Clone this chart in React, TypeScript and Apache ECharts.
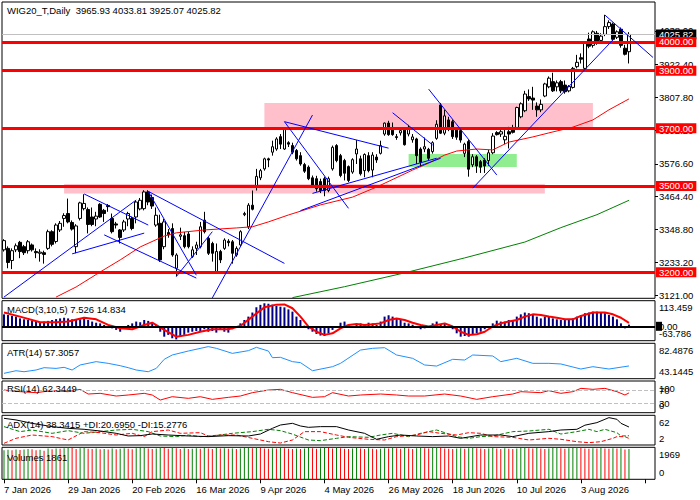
import React, { useEffect, useRef } from "react";
import * as echarts from "echarts";

// ---------------- data ----------------
const HEADER = "WIG20_T,Daily  3965.93 4033.81 3925.07 4025.82";
const FIRST_DAY = "2026-01-07";
const HOLIDAYS = ["2026-04-03", "2026-04-06", "2026-05-01", "2026-06-04"];
const MONTHS = ["Jan", "Feb", "Mar", "Apr", "May", "Jun", "Jul", "Aug", "Sep", "Oct", "Nov", "Dec"];
const SLOT_COUNT = 163;
const LABEL_EVERY = 16;

// [open, high, low, close]
const CANDLES: number[][] = [
  [3278, 3315, 3272, 3310], [3283, 3290, 3214, 3234], [3241, 3283, 3211, 3275], [3278, 3300, 3270, 3292], [3304, 3309, 3249, 3272],
  [3289, 3295, 3260, 3268], [3275, 3312, 3265, 3306], [3295, 3300, 3272, 3278], [3272, 3283, 3249, 3268], [3266, 3280, 3237, 3270],
  [3268, 3275, 3230, 3262], [3283, 3348, 3278, 3341], [3341, 3346, 3290, 3297], [3307, 3370, 3300, 3364], [3347, 3378, 3340, 3370],
  [3387, 3405, 3358, 3397], [3404, 3456, 3370, 3375], [3373, 3380, 3345, 3350], [3289, 3367, 3266, 3361], [3387, 3445, 3380, 3441],
  [3421, 3471, 3415, 3439], [3418, 3425, 3335, 3366], [3392, 3425, 3360, 3366], [3385, 3410, 3360, 3395], [3436, 3440, 3389, 3392],
  [3415, 3420, 3375, 3404], [3432, 3437, 3410, 3428], [3387, 3404, 3335, 3341], [3368, 3375, 3352, 3364], [3347, 3350, 3300, 3321],
  [3347, 3382, 3340, 3375], [3385, 3410, 3360, 3404], [3387, 3393, 3346, 3352], [3392, 3450, 3370, 3444], [3420, 3458, 3415, 3450],
  [3421, 3485, 3415, 3479], [3479, 3485, 3433, 3444], [3460, 3470, 3420, 3430], [3364, 3425, 3358, 3398], [3370, 3400, 3236, 3243],
  [3289, 3385, 3280, 3375], [3338, 3350, 3320, 3330], [3352, 3370, 3254, 3260], [3214, 3266, 3186, 3260], [3325, 3355, 3312, 3330],
  [3327, 3340, 3283, 3289], [3333, 3340, 3283, 3289], [3255, 3290, 3250, 3278], [3283, 3306, 3260, 3295], [3289, 3375, 3283, 3358],
  [3381, 3410, 3335, 3341], [3318, 3323, 3260, 3266], [3300, 3306, 3237, 3266], [3203, 3300, 3200, 3272], [3272, 3278, 3232, 3243],
  [3283, 3318, 3278, 3312], [3308, 3315, 3290, 3303], [3306, 3312, 3230, 3266], [3260, 3290, 3254, 3283], [3295, 3346, 3290, 3341],
  [3400, 3410, 3395, 3404], [3358, 3440, 3350, 3433], [3433, 3484, 3415, 3419], [3496, 3559, 3484, 3533], [3528, 3559, 3520, 3553],
  [3559, 3598, 3553, 3594], [3594, 3598, 3565, 3590], [3617, 3657, 3605, 3636], [3628, 3669, 3622, 3663], [3671, 3680, 3628, 3645],
  [3628, 3703, 3625, 3697], [3650, 3655, 3635, 3645], [3640, 3650, 3610, 3617], [3623, 3628, 3588, 3594], [3605, 3617, 3570, 3576],
  [3574, 3580, 3545, 3551], [3565, 3571, 3520, 3525], [3528, 3536, 3496, 3502], [3525, 3535, 3480, 3490], [3515, 3525, 3475, 3484],
  [3525, 3532, 3464, 3484], [3484, 3532, 3478, 3525], [3559, 3640, 3553, 3634], [3640, 3645, 3582, 3588], [3605, 3611, 3530, 3536],
  [3588, 3594, 3519, 3544], [3567, 3571, 3513, 3519], [3548, 3596, 3542, 3591], [3611, 3659, 3576, 3628], [3594, 3605, 3536, 3542],
  [3553, 3613, 3530, 3609], [3605, 3617, 3547, 3553], [3555, 3617, 3530, 3607], [3600, 3610, 3580, 3590], [3613, 3657, 3609, 3640],
  [3680, 3720, 3674, 3718], [3718, 3726, 3674, 3678], [3703, 3720, 3674, 3678], [3671, 3680, 3660, 3668], [3684, 3700, 3675, 3692],
  [3694, 3703, 3640, 3643], [3680, 3712, 3672, 3703], [3660, 3680, 3650, 3670], [3663, 3667, 3576, 3605], [3628, 3634, 3565, 3582],
  [3628, 3668, 3617, 3636], [3627, 3632, 3590, 3596], [3619, 3655, 3612, 3650], [3665, 3728, 3660, 3714], [3781, 3788, 3680, 3683],
  [3683, 3765, 3676, 3743], [3729, 3740, 3690, 3700], [3723, 3730, 3663, 3671], [3694, 3700, 3660, 3669], [3692, 3700, 3650, 3659],
  [3613, 3650, 3600, 3645], [3654, 3660, 3532, 3558], [3573, 3610, 3565, 3601], [3601, 3607, 3545, 3569], [3584, 3590, 3545, 3565],
  [3590, 3596, 3545, 3569], [3588, 3625, 3570, 3615], [3615, 3683, 3610, 3673], [3685, 3690, 3675, 3678], [3680, 3700, 3670, 3688],
  [3660, 3695, 3645, 3672], [3688, 3705, 3630, 3680], [3700, 3712, 3682, 3686], [3703, 3775, 3700, 3772], [3740, 3790, 3735, 3785],
  [3761, 3830, 3756, 3819], [3810, 3835, 3795, 3802], [3805, 3844, 3764, 3798], [3777, 3790, 3740, 3764], [3764, 3800, 3756, 3783],
  [3812, 3858, 3808, 3854], [3844, 3880, 3839, 3874], [3862, 3893, 3826, 3830], [3844, 3866, 3828, 3858], [3862, 3868, 3822, 3830],
  [3850, 3866, 3820, 3827], [3830, 3850, 3825, 3845], [3842, 3913, 3838, 3908], [3914, 3955, 3908, 3929], [3945, 3960, 3925, 3940],
  [3908, 4001, 3902, 3995], [4010, 4032, 3978, 3985], [3988, 4040, 3980, 4035], [4030, 4038, 3990, 3995], [4005, 4030, 3995, 4020],
  [4026, 4094, 4020, 4053], [4053, 4075, 4045, 4067], [4062, 4067, 3998, 4009], [4016, 4040, 4010, 4035], [4044, 4050, 3980, 3988],
  [3978, 3990, 3953, 3957], [3965.93, 4033.81, 3925.07, 4025.82],
];

const PRICE_MIN = 3109.7;
const PRICE_MAX = 4138.5;
const PRICE_TICKS = [3121.0, 3233.2, 3348.8, 3464.4, 3576.6, 3692.2, 3807.8, 3922.4, 4038.0];
const LEVELS = [4000, 3900, 3700, 3500, 3200];
const LAST_PRICE = 4025.82;

// [barIndex, price]
const RED_MA = [
  [13, 3114], [18, 3149], [24, 3201], [29, 3243], [34, 3288], [40, 3326], [43, 3337], [50, 3347], [58, 3354], [62, 3358],
  [66, 3375], [71, 3399], [79, 3434], [87, 3461], [93, 3496], [102, 3555], [106, 3579], [110, 3607], [113, 3621], [118, 3628],
  [122, 3625], [126, 3652], [132, 3670], [136, 3684], [142, 3704], [147, 3729], [151, 3764], [156, 3802],
];
const GREEN_MA = [[72, 3112], [85, 3150], [100, 3198], [115, 3250], [130, 3305], [139, 3355], [148, 3400], [156, 3450]];

// [i1, p1, i2, p2]
const TRENDLINES = [
  [0, 3114, 33, 3451], [20, 3472, 36, 3364], [17, 3264, 35, 3336], [25, 3330, 48, 3180],
  [36, 3481, 70, 3231], [36, 3481, 48, 3190], [43, 3185, 52, 3341], [52, 3111, 77, 3746],
  [70, 3723, 96, 3631], [70, 3723, 86, 3422], [74, 3414, 109, 3596], [77, 3474, 108, 3596],
  [97, 3754, 107, 3642], [106, 3836, 123, 3538], [117, 3492, 152, 4007], [150, 4093, 162, 3946],
];
// [i1, pTop, i2, pBottom]
const ZONES = [[65, 3788, 147, 3697], [15, 3507, 135, 3474], [101, 3611, 128, 3566]];
const ZONE_COLORS = ["#FFC0CB", "#FFC0CB", "#90EE90"];

const MACD_LABEL = "MACD(3,10,5) 7.526 14.834";
const MACD_MIN = -63.786;
const MACD_MAX = 113.459;
const MACD_ZERO = 0;
const MACD_HIST = [
  53, 50, 46, 43, 35, 31, 28, 25, 21, 16, 21, 24, 28, 32, 35, 38, 35, 31, 28, 31,
  35, 28, 21, 16, 13, 6, -1, -9, -16, -24, -4, 6, 13, 21, 18, 28, 24, 13, 6, -24,
  -46, -38, -53, -58, -46, -38, -28, -24, -21, -21, -13, -24, -21, -28, -16, -24, -28, -13, -4, 13,
  28, 43, 61, 84, 95, 102, 100, 96, 90, 87, 84, 75, 65, 43, 28, 3, -13, -24, -34, -41,
  -43, -31, -16, -1, 16, 21, 6, -4, 10, 13, 6, 16, 13, 6, 21, 43, 49, 43, 35, 28,
  16, 13, 7, -4, -13, -9, -1, 13, 21, 6, 13, -6, -13, -31, -46, -43, -46, -38, -31, -24,
  -13, -1, 13, 25, 21, 21, 28, 28, 43, 53, 61, 58, 50, 43, 35, 43, 43, 35, 31, 28,
  28, 31, 35, 43, 50, 58, 61, 65, 65, 61, 58, 50, 43, 31, 13, -9, 7.5,
];
const MACD_SIGNAL = [
  [0, 61], [4, 43], [9, 18], [13, 18], [16, 21], [20, 38], [23, 31], [26, 6], [29, -9], [32, -13],
  [35, 6], [37, 16], [40, -16], [43, -46], [46, -38], [49, -24], [52, -13], [56, -13], [59, 1], [62, 43],
  [65, 84], [68, 96], [70, 97], [72, 80], [74, 43], [76, -1], [78, -24], [80, -38], [82, -31], [84, -9],
  [86, 6], [88, 10], [90, 6], [92, 9], [94, 13], [96, 28], [98, 35], [100, 28], [102, 16], [104, 6],
  [106, -1], [108, 6], [110, 13], [112, -1], [114, -24], [116, -38], [118, -35], [120, -24], [122, -1], [124, 13],
  [126, 21], [128, 28], [130, 43], [132, 53], [134, 50], [136, 43], [138, 38], [140, 31], [142, 31], [144, 46],
  [147, 61], [150, 61], [152, 53], [154, 38], [156, 14.834],
];

const ATR_LABEL = "ATR(14) 57.3057";
const ATR_MIN = 43.1445;
const ATR_MAX = 82.4876;
const ATR = [
  [0, 49.1], [3, 52.0], [5, 50.9], [8, 52.8], [10, 55.4], [13, 54.6], [15, 55.8], [17, 52.8], [19, 58.4], [23, 62.1],
  [26, 60.2], [29, 57.6], [31, 55.4], [33, 52.8], [36, 50.9], [38, 54.6], [40, 64.7], [42, 69.5], [46, 73.9], [51, 78.8],
  [53, 76.9], [57, 71.3], [61, 74.3], [63, 78.0], [66, 73.9], [67, 66.5], [69, 66.9], [72, 62.1], [74, 61.0], [77, 52.0],
  [82, 56.5], [84, 60.2], [89, 75.0], [92, 76.9], [95, 77.6], [98, 69.5], [102, 65.8], [105, 58.4], [108, 57.2], [112, 64.7],
  [115, 63.9], [117, 69.5], [122, 68.4], [124, 62.1], [128, 65.8], [132, 60.2], [136, 60.2], [139, 59.5], [144, 53.9], [147, 56.5],
  [151, 53.9], [156, 57.3057],
];

const RSI_LABEL = "RSI(14) 62.3449";
const RSI_LEVELS = [70, 30];
const RSI = [
  [0, 71.6], [4, 66.3], [8, 63.2], [12, 69.5], [16, 66.3], [19, 73.7], [21, 58.9], [24, 61.1], [28, 52.6], [31, 55.8],
  [35, 61.1], [37, 55.8], [39, 40.0], [42, 50.5], [46, 45.3], [49, 50.5], [52, 42.1], [56, 48.4], [59, 52.6], [62, 63.2],
  [66, 71.6], [69, 73.7], [72, 63.2], [77, 48.4], [80, 50.5], [82, 63.2], [86, 52.6], [89, 55.8], [94, 58.9], [98, 55.8],
  [101, 52.6], [105, 52.6], [110, 58.9], [114, 52.6], [118, 42.1], [122, 50.5], [127, 58.9], [129, 66.3], [134, 63.2], [136, 69.5],
  [139, 61.1], [142, 66.3], [144, 76.8], [147, 73.7], [150, 76.8], [153, 66.3], [155, 55.8], [156, 62.3449],
];

const ADX_LABEL = "ADX(14) 38.3415 +DI:20.6950 -DI:15.2776";
const ADX_MIN = 2;
const ADX_MAX = 62;
const ADX = [
  [0, 55.9], [3, 52.6], [7, 45.8], [12, 39.1], [16, 35.7], [20, 33.7], [24, 30.3], [28, 25.6], [31, 20.2], [34, 20.9],
  [37, 24.2], [41, 22.2], [46, 20.2], [51, 18.9], [56, 20.9], [61, 20.2], [64, 24.2], [67, 35.7], [69, 42.4], [72, 45.8],
  [74, 40.4], [76, 37.7], [79, 39.1], [83, 39.1], [86, 32.3], [90, 25.6], [93, 13.5], [96, 18.9], [99, 22.2], [103, 20.2],
  [107, 18.9], [111, 20.2], [114, 15.5], [119, 22.2], [124, 22.2], [127, 18.9], [131, 25.6], [136, 29.0], [139, 32.3], [143, 33.7],
  [145, 42.0], [148, 47.2], [151, 57.3], [153, 53.9], [154, 45.8], [156, 38.3415],
];
const PLUS_DI = [
  [0, 39.1], [4, 29.0], [7, 32.3], [12, 25.6], [16, 31.0], [20, 25.6], [24, 29.0], [28, 32.3], [32, 33.7], [36, 29.0],
  [39, 20.2], [43, 18.9], [46, 22.2], [49, 18.9], [52, 20.2], [57, 25.6], [62, 29.0], [66, 33.7], [69, 31.0], [72, 24.0],
  [74, 18.0], [76, 12.1], [79, 10.8], [83, 15.5], [86, 18.9], [91, 17.5], [94, 22.2], [97, 25.6], [101, 18.9], [104, 25.6],
  [108, 32.3], [113, 18.9], [116, 15.5], [119, 18.9], [122, 20.2], [127, 29.0], [131, 30.3], [136, 33.7], [139, 24.2], [143, 29.0],
  [146, 33.7], [148, 29.0], [150, 33.7], [153, 26.9], [154, 20.2], [156, 20.695],
];
const MINUS_DI = [
  [0, 5.4], [3, 15.5], [7, 22.2], [12, 18.9], [16, 12.1], [20, 29.0], [24, 26.9], [28, 22.2], [32, 25.6], [35, 18.9],
  [37, 29.0], [41, 32.3], [44, 25.6], [49, 26.9], [51, 20.2], [54, 22.2], [58, 22.2], [62, 15.5], [66, 8.7], [69, 6.0],
  [72, 12.1], [75, 29.0], [79, 29.0], [83, 22.2], [86, 17.5], [91, 13.5], [95, 12.1], [98, 18.9], [103, 22.2], [106, 29.0],
  [109, 25.6], [113, 22.2], [116, 26.9], [119, 25.6], [122, 18.9], [127, 17.5], [131, 12.1], [136, 15.5], [139, 13.5], [143, 8.7],
  [146, 6.7], [149, 8.7], [152, 15.5], [153, 18.9], [155, 18.9], [156, 15.2776],
];

const VOL_LABEL = "Volumes 1861";
const VOL_MAX = 1969;
const VOLUMES = [
  1780, 1820, 1795, 1840, 1810, 1830, 1870, 1850, 1790, 1815,
  1760, 1890, 1850, 1900, 1880, 1910, 1960, 1930, 1870, 1905,
  1940, 1880, 1860, 1895, 1845, 1870, 1835, 1890, 1850, 1880,
  1910, 1875, 1845, 1905, 1920, 1950, 1900, 1870, 1890, 1969,
  1930, 1880, 1940, 1910, 1870, 1905, 1860, 1885, 1910, 1880,
  1920, 1890, 1870, 1930, 1895, 1915, 1880, 1900, 1860, 1890,
  1920, 1940, 1905, 1950, 1925, 1900, 1880, 1915, 1890, 1935,
  1910, 1880, 1860, 1890, 1870, 1900, 1930, 1905, 1880, 1915,
  1945, 1920, 1900, 1935, 1910, 1880, 1860, 1895, 1920, 1890,
  1870, 1905, 1880, 1850, 1875, 1910, 1890, 1935, 1905, 1880,
  1920, 1895, 1870, 1905, 1935, 1910, 1890, 1920, 1950, 1930,
  1900, 1875, 1860, 1890, 1915, 1880, 1910, 1940, 1915, 1890,
  1870, 1900, 1925, 1895, 1870, 1905, 1885, 1860, 1890, 1920,
  1945, 1915, 1900, 1925, 1890, 1870, 1895, 1920, 1940, 1910,
  1885, 1905, 1930, 1960, 1935, 1900, 1880, 1910, 1890, 1920,
  1900, 1880, 1915, 1890, 1905, 1840, 1861,
];

// ---------------- helpers ----------------
function buildDates(count: number): string[] {
  const out: string[] = [];
  const d = new Date(FIRST_DAY + "T00:00:00Z");
  while (out.length < count) {
    const iso = d.toISOString().slice(0, 10);
    const wd = d.getUTCDay();
    if (wd !== 0 && wd !== 6 && !HOLIDAYS.includes(iso)) {
      out.push(`${d.getUTCDate()} ${MONTHS[d.getUTCMonth()]} ${d.getUTCFullYear()}`);
    }
    d.setUTCDate(d.getUTCDate() + 1);
  }
  return out;
}

const FONT = "Liberation Sans";
const FS = 9.5;
const LEFT = 2;
const WIDTH = 653;
const PANELS = [
  { top: 2, height: 296.3 },
  { top: 300.7, height: 40 },
  { top: 343.3, height: 35.4 },
  { top: 381, height: 31.7 },
  { top: 415.3, height: 29.7 },
  { top: 447.3, height: 32 },
];

const txt = { fontFamily: FONT, fontSize: FS, color: "#000" };

function edgeAxis(grid: number, min: number, max: number, topText: string, bottomText: string) {
  return {
    type: "value",
    gridIndex: grid,
    position: "right",
    min,
    max,
    splitLine: { show: false },
    axisLine: { show: false },
    axisTick: { show: false },
    axisLabel: {
      ...txt,
      margin: 4,
      showMinLabel: true,
      showMaxLabel: true,
      hideOverlap: false,
      customValues: [max, min],
      formatter: (v: number) => (v === max ? `{t|${topText}}` : `{b|${bottomText}}`),
      rich: {
        t: { ...txt, padding: [14, 0, 0, 0] },
        b: { ...txt, padding: [0, 0, 14, 0] },
      },
    },
  };
}

function pairLine(data: number[][], xi: number, color: string, width = 1, type: any = "solid", z = 3) {
  return {
    type: "line",
    xAxisIndex: xi,
    yAxisIndex: xi,
    data,
    showSymbol: false,
    symbol: "none",
    z,
    clip: true,
    lineStyle: { color, width, type },
    silent: true,
  };
}

export default function App() {
  const ref = useRef<HTMLDivElement>(null);

  useEffect(() => {
    if (!ref.current) return;
    const chart = echarts.init(ref.current, null, { renderer: "svg" });

    const dates = buildDates(CANDLES.length);
    const categories = [
      ...dates,
      ...Array.from({ length: SLOT_COUNT - dates.length }, (_, k) => " ".repeat(k + 1)),
    ];

    const grids = PANELS.map((p) => ({
      left: LEFT,
      width: WIDTH,
      top: p.top,
      height: p.height,
      show: true,
      borderColor: "#000",
      borderWidth: 1,
      backgroundColor: "#fff",
      containLabel: false,
    }));

    const xAxes = PANELS.map((_, g) => ({
      type: "category",
      gridIndex: g,
      data: categories,
      boundaryGap: true,
      axisLine: { show: false },
      splitLine: { show: false },
      axisTick:
        g === PANELS.length - 1
          ? { show: true, interval: LABEL_EVERY - 1, alignWithLabel: true, length: 4, lineStyle: { color: "#000" } }
          : { show: false },
      axisLabel:
        g === PANELS.length - 1
          ? { ...txt, show: true, interval: LABEL_EVERY - 1, align: "left", margin: 5 }
          : { show: false },
    }));

    const yAxes: any[] = [
      {
        type: "value",
        gridIndex: 0,
        position: "right",
        min: PRICE_MIN,
        max: PRICE_MAX,
        splitLine: { show: false },
        axisLine: { show: false },
        axisTick: { show: true, customValues: PRICE_TICKS, length: 3, lineStyle: { color: "#000" } },
        axisLabel: {
          ...txt,
          margin: 4,
          showMinLabel: true,
          showMaxLabel: true,
          customValues: PRICE_TICKS,
          formatter: (v: number) => v.toFixed(2),
        },
      },
      edgeAxis(1, MACD_MIN, MACD_MAX, MACD_MAX.toFixed(3), MACD_MIN.toFixed(3)),
      edgeAxis(2, ATR_MIN, ATR_MAX, ATR_MAX.toFixed(4), ATR_MIN.toFixed(4)),
      edgeAxis(3, 0, 100, "100", "0"),
      edgeAxis(4, ADX_MIN, ADX_MAX, String(ADX_MAX), String(ADX_MIN)),
      edgeAxis(5, 0, VOL_MAX, String(VOL_MAX), "0"),
    ];

    const boxLabel = (text: string, bg: string) => ({
      show: true,
      position: "end",
      distance: 1,
      formatter: text,
      color: "#fff",
      backgroundColor: bg,
      fontFamily: FONT,
      fontSize: FS,
      lineHeight: 9,
      padding: [1, 3, 0, 3],
    });

    const plainLabel = (text: string) => ({
      show: true,
      position: "end",
      distance: 4,
      formatter: text,
      color: "#000",
      fontFamily: FONT,
      fontSize: FS,
    });

    const series: any[] = [
      // background zones
      {
        type: "line",
        xAxisIndex: 0,
        yAxisIndex: 0,
        data: [],
        z: 1,
        silent: true,
        markArea: {
          silent: true,
          data: ZONES.map((zn, k) => [
            { coord: [zn[0], zn[1]], itemStyle: { color: ZONE_COLORS[k], opacity: 1 } },
            { coord: [zn[2], zn[3]] },
          ]),
        },
      },
      // candles
      {
        type: "candlestick",
        xAxisIndex: 0,
        yAxisIndex: 0,
        z: 2,
        barWidth: 3,
        silent: true,
        data: CANDLES.map(([o, h, l, c]) => [o, c, l, h]),
        itemStyle: { color: "#fff", color0: "#000", borderColor: "#000", borderColor0: "#000", borderWidth: 1 },
      },
      pairLine(GREEN_MA, 0, "#008000", 1, "solid", 3),
      pairLine(RED_MA, 0, "#ff0000", 1, "solid", 3),
      // horizontal levels and last price
      {
        type: "line",
        xAxisIndex: 0,
        yAxisIndex: 0,
        data: [],
        z: 4,
        silent: true,
        markLine: {
          silent: true,
          symbol: ["none", "none"],
          data: [
            {
              yAxis: LAST_PRICE,
              lineStyle: { color: "#c0c0c0", width: 1, type: "solid" },
              label: boxLabel(LAST_PRICE.toFixed(2), "#000"),
            },
            ...LEVELS.map((v) => ({
              yAxis: v,
              lineStyle: { color: "#ff0000", width: 3, type: "solid" },
              label: boxLabel(v.toFixed(2), "#ff0000"),
            })),
          ],
        },
      },
      // trend lines
      {
        type: "line",
        xAxisIndex: 0,
        yAxisIndex: 0,
        data: [],
        z: 5,
        silent: true,
        markLine: {
          silent: true,
          symbol: ["none", "none"],
          label: { show: false },
          lineStyle: { color: "#0000ff", width: 1, type: "solid" },
          data: TRENDLINES.map(([i1, p1, i2, p2]) => [{ coord: [i1, p1] }, { coord: [i2, p2] }]),
        },
      },
      // MACD
      {
        type: "bar",
        xAxisIndex: 1,
        yAxisIndex: 1,
        data: MACD_HIST,
        barWidth: 2,
        silent: true,
        itemStyle: { color: "#000080" },
      },
      {
        type: "line",
        xAxisIndex: 1,
        yAxisIndex: 1,
        data: [],
        z: 3,
        silent: true,
        markLine: {
          silent: true,
          symbol: ["none", "none"],
          label: { show: false },
          data: [{ yAxis: MACD_ZERO, lineStyle: { color: "#000", width: 2, type: "solid" } }],
        },
      },
      pairLine(MACD_SIGNAL, 1, "#ff0000", 2, "solid", 4),
      // ATR
      pairLine(ATR, 2, "#1e90ff", 1),
      // RSI
      {
        ...pairLine(RSI, 3, "#ff0000", 1),
        markLine: {
          silent: true,
          symbol: ["none", "none"],
          lineStyle: { color: "#c0c0c0", width: 1, type: "dashed" },
          data: RSI_LEVELS.map((v) => ({ yAxis: v, label: plainLabel(String(v)) })),
        },
      },
      // ADX
      pairLine(PLUS_DI, 4, "#008000", 1, "dashed"),
      pairLine(MINUS_DI, 4, "#ff0000", 1, "dashed"),
      pairLine(ADX, 4, "#000000", 1),
      // Volume
      {
        type: "bar",
        xAxisIndex: 5,
        yAxisIndex: 5,
        barWidth: 1,
        silent: true,
        data: VOLUMES.map((v, i) => ({
          value: v,
          itemStyle: { color: i === 0 || v > VOLUMES[i - 1] ? "#008000" : "#ff0000" },
        })),
      },
    ];

    const labelTexts = [
      { text: HEADER, y: 10 },
      { text: MACD_LABEL, y: 309 },
      { text: ATR_LABEL, y: 352 },
      { text: RSI_LABEL, y: 388 },
      { text: ADX_LABEL, y: 424 },
      { text: VOL_LABEL, y: 457 },
    ];

    const graphicTexts: any[] = labelTexts.map((l) => ({
      type: "text",
      x: 7,
      y: l.y,
      z: 100,
      silent: true,
      style: {
        text: l.text,
        fill: "#000",
        font: `${FS}px "${FONT}"`,
        verticalAlign: "middle",
      },
    }));

    chart.setOption({
      animation: false,
      backgroundColor: "#fff",
      grid: grids,
      xAxis: xAxes,
      yAxis: yAxes,
      series,
      graphic: graphicTexts,
    });

    // MACD zero-level price label, placed through the MACD axis scale
    const zeroY = chart.convertToPixel({ yAxisIndex: 1 }, MACD_ZERO) as number;
    const rightX = LEFT + WIDTH;
    chart.setOption({
      graphic: [
        ...graphicTexts,
        {
          type: "rect",
          z: 100,
          silent: true,
          shape: { x: rightX + 1, y: zeroY - 4.5, width: 6, height: 9 },
          style: { fill: "#000" },
        },
        {
          type: "text",
          x: rightX + 4,
          y: zeroY,
          z: 101,
          silent: true,
          style: {
            text: "0.00",
            fill: "#000",
            font: `${FS}px "${FONT}"`,
            verticalAlign: "middle",
          },
        },
      ],
    });

    return () => chart.dispose();
  }, []);

  return (
    <div
      ref={ref}
      style={{ position: "fixed", left: 0, top: 0, width: 700, height: 500, background: "#fff" }}
    />
  );
}
